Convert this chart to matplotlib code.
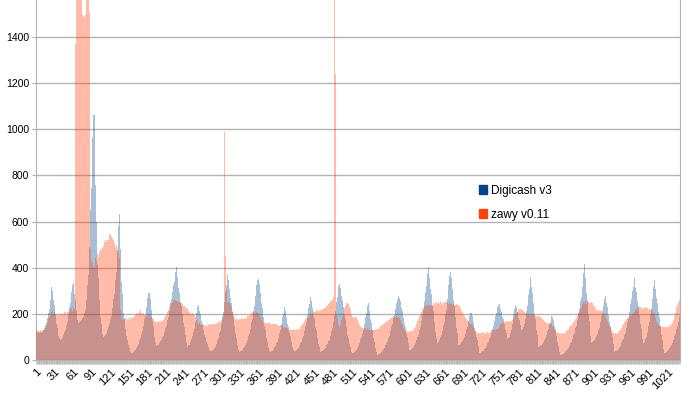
import matplotlib
matplotlib.use("Agg")
import matplotlib.pyplot as plt
from matplotlib.patches import Patch

series_names = ["Digicash v3", "zawy v0.11"]

# Digicash v3 values, category 1..1040
digicash = [
    140, 122, 118, 115, 120, 117, 116, 122, 119, 125, 121, 128, 132, 138, 145, 152, 160, 170, 180, 192, 205, 220, 238, 258, 285, 318,
    298, 278, 258, 238, 218, 198, 178, 158, 138, 120, 105, 94, 87,
    88, 90, 93, 97, 102, 108, 115, 123, 132, 142, 153, 165, 178, 193, 210, 228, 248, 270, 295, 325, 361,
    335, 310, 285, 260, 235, 212, 192, 175, 162,
    163, 165, 167, 170, 173, 177, 182, 188, 195, 205, 218, 235, 258, 288, 325, 370, 425, 490, 565, 650, 745, 850, 960, 1060, 1170,
    1060, 920, 760, 600, 480, 410, 355, 305, 260, 220, 185, 155, 130, 112, 100,
    101, 103, 106, 110, 115, 121, 128, 136, 145, 155, 166, 178, 192, 207, 224, 243, 264, 288, 315, 346, 382, 425, 475, 530, 580, 632,
    560, 480, 405, 340, 285, 240, 205, 178, 155, 135, 118, 102, 88, 75, 63, 52, 42, 34, 29,
    30, 31, 33, 35, 38, 41, 45, 49, 54, 59, 65, 71, 78, 86, 94, 103, 113, 124, 136, 149, 163, 178, 194, 211, 229, 249, 270, 292, 313,
    290, 266, 242, 218, 194, 170, 146, 122, 98, 76, 58,
    59, 61, 63, 66, 69, 73, 77, 82, 87, 93, 99, 106, 113, 121, 130, 139, 149, 160, 172, 185, 199, 214, 230, 247, 265, 280, 295, 310, 325, 340, 360, 380, 402,
    380, 358, 336, 314, 292, 272, 252, 234, 216, 198, 180, 162, 144, 126, 108, 90, 72, 58,
    60, 63, 67, 72, 78, 85, 93, 102, 112, 123, 136, 150, 166, 184, 205, 228, 253,
    240, 226, 212, 198, 184, 170, 157, 144, 132, 120, 109, 98, 88, 79, 71, 63, 56, 50, 44, 39, 36,
    37, 39, 42, 45, 49, 53, 58, 64, 70, 77, 85, 94, 104, 115, 127, 140, 155, 171, 189, 208, 229, 251, 275, 300, 325, 348, 368,
    348, 328, 308, 288, 268, 248, 228, 208, 188, 168, 149, 130, 112, 96, 81, 67, 55, 44, 36,
    37, 38, 40, 42, 45, 48, 52, 56, 61, 66, 72, 79, 86, 94, 103, 113, 124, 136, 149, 163, 178, 195, 213, 232, 253, 276, 300, 324, 348, 373,
    352, 331, 310, 289, 268, 247, 226, 205, 185, 165, 146, 128, 111, 95, 80, 67, 56, 47, 40, 36,
    37, 39, 41, 44, 47, 51, 55, 60, 66, 72, 79, 87, 96, 106, 117, 129, 142, 156, 171, 186, 200, 214, 228,
    214, 200, 186, 172, 158, 144, 130, 116, 103, 90, 78, 66, 55, 45, 36,
    37, 38, 40, 42, 45, 48, 52, 56, 61, 66, 72, 79, 86, 94, 103, 113, 124, 136, 149, 163, 178, 194, 210, 226, 242, 257, 272,
    256, 240, 224, 208, 192, 176, 160, 144, 128, 112, 97, 83, 70, 58, 46, 36,
    37, 38, 40, 42, 44, 47, 50, 54, 58, 63, 68, 74, 81, 88, 96, 105, 115, 126, 138, 151, 165, 180, 196, 213, 231, 250, 271, 295, 320, 347,
    330, 313, 296, 279, 262, 245, 228, 211, 194, 177, 160, 143, 126, 110, 95, 81, 68, 56, 45, 36, 29,
    30, 31, 33, 35, 38, 41, 45, 49, 54, 60, 66, 73, 81, 89, 98, 108, 119, 131, 144, 158, 172, 187, 202, 217, 232, 246,
    230, 213, 196, 179, 162, 145, 128, 111, 95, 80, 65, 50, 35, 22,
    23, 24, 25, 27, 29, 31, 34, 37, 40, 44, 48, 53, 58, 63, 69, 75, 82, 89, 97, 106, 115, 125, 135, 146, 158, 170, 183, 196, 209, 222, 235, 247, 258, 268, 276, 282,
    268, 254, 240, 226, 212, 198, 184, 170, 156, 142, 128, 114, 100, 86, 72, 57, 43,
    44, 46, 48, 51, 54, 58, 62, 67, 72, 78, 85, 92, 100, 109, 119, 130, 142, 155, 169, 184, 200, 217, 235, 254, 274, 296, 320, 346, 374, 404,
    380, 356, 332, 308, 284, 260, 236, 212, 189, 166, 143, 120, 96, 72,
    74, 77, 81, 86, 92, 99, 107, 116, 126, 137, 150, 164, 180, 198, 218, 240, 265, 293, 325, 362, 404,
    380, 356, 332, 308, 284, 260, 236, 212, 188, 164, 140, 116, 90, 65,
    66, 68, 71, 74, 78, 82, 87, 93, 99, 106, 114, 123, 133, 144, 156, 168, 180, 192, 204, 217,
    204, 191, 178, 165, 152, 139, 126, 113, 100, 87, 74, 61, 45, 29,
    30, 31, 33, 35, 37, 40, 43, 47, 51, 56, 61, 66, 72, 78, 85, 92, 100, 108, 117, 126, 136, 146, 157, 168, 180, 192, 204, 216, 228, 240, 253,
    242, 231, 220, 209, 198, 187, 176, 165, 154, 143, 132, 118, 104, 90,
    92, 96, 101, 108, 117, 128, 142, 158, 177, 199, 223, 250,
    239, 228, 217, 206, 195, 184, 173, 162, 151, 140, 130,
    133, 138, 145, 154, 165, 178, 194, 212, 233, 256, 281, 308, 334, 361,
    338, 315, 292, 269, 246, 223, 200, 177, 154, 131, 108, 83, 58,
    59, 60, 62, 64, 67, 70, 74, 78, 83, 88, 94, 101, 108, 116, 125, 134, 144, 155, 166, 178, 190, 202,
    188, 174, 160, 146, 132, 118, 104, 90, 76, 62, 48, 34, 20,
    21, 22, 23, 25, 27, 29, 31, 34, 37, 40, 44, 48, 52, 57, 62, 67, 73, 79, 86, 93, 101, 109, 118, 128, 138, 149, 161, 174, 188, 203, 219, 236, 254, 273, 293, 316, 340, 376, 416,
    385, 354, 323, 292, 261, 230, 199, 168, 137, 105, 73,
    74, 76, 78, 81, 85, 89, 94, 100, 106, 113, 121, 130, 140, 151, 163, 176, 190, 205, 220, 235, 249, 263, 277,
    261, 245, 229, 213, 197, 181, 165, 149, 133, 117, 101, 85, 69, 52, 36,
    37, 38, 40, 42, 45, 48, 52, 56, 61, 66, 72, 78, 85, 92, 100, 109, 118, 128, 139, 151, 164, 178, 193, 209, 226, 244, 263, 281, 300, 318, 336, 354,
    334, 314, 294, 274, 254, 234, 214, 194, 174, 154, 134, 114, 93, 73,
    75, 79, 85, 92, 100, 110, 121, 134, 148, 164, 181, 200, 220, 242, 265, 290, 317, 347,
    327, 307, 287, 267, 247, 227, 207, 187, 167, 147, 127, 107, 87, 67, 48, 29,
    30, 31, 33, 35, 37, 40, 43, 47, 51, 56, 61, 67, 73, 80, 87, 95, 104, 113, 123, 133, 144, 155, 166, 177, 188,
]

# zawy v0.11 values, category 1..1040
zawy = [
    135, 122, 125, 120, 127, 124, 121, 128, 125, 123, 130, 126, 129, 132, 135,
    140, 148, 155, 163, 172, 180, 188, 195, 200, 205, 208,
    212, 205, 198, 210, 203, 196, 207, 200, 192, 204, 199, 195, 206, 201, 193, 198, 205, 200, 196, 203, 208, 200, 195, 204, 210, 206,
    212, 218, 208, 220, 215, 224, 212, 218, 225, 216, 220,
    1370, 1470, 1620, 1680, 1650, 1720, 1690, 1640, 1700, 1660, 1610, 1580, 1500, 1490, 1485, 1480, 1495, 1570, 1640, 1690, 1650, 1600, 1580, 1510, 1505,
    480, 430, 410, 420, 405, 415, 400, 425, 440, 430, 455, 460, 445, 465, 470, 462,
    475, 480, 490, 485, 500, 495, 510, 505, 520, 512, 525, 518, 530, 522, 540, 528, 548, 535, 525, 530, 515, 520,
    505, 498, 490, 500, 485, 478, 470, 465,
    440, 330, 215,
    190, 182, 178, 185, 175, 180, 172, 183, 176, 170, 178, 185, 180, 174, 182, 188, 180, 176, 185, 190, 183, 188, 192,
    195, 200, 205, 198, 210, 204, 212, 207, 215, 210, 205, 200, 208, 202, 198,
    195, 190, 198, 188, 192, 196, 185, 190, 194, 188, 192, 186, 182, 180, 176, 172,
    168, 165, 162, 166, 160, 164, 168, 162, 166, 170, 165, 168, 172, 170, 175, 178,
    182, 188, 192, 198, 205, 210, 215, 222, 228, 232, 238, 242, 246, 250, 252, 255,
    258, 252, 260, 255, 262, 250, 258, 254, 248, 256, 252, 245, 250, 244, 240, 236, 232,
    235, 228, 230, 222, 225, 218, 212, 208,
    205, 200, 204, 198, 202, 196, 200, 194, 190, 185, 178, 172, 168,
    162, 158, 155, 160, 152, 156, 150, 154, 148, 152, 146, 150, 145, 149, 152, 146, 150, 155, 148, 152,
    156, 150, 154, 158, 152, 156, 160, 155, 158, 162, 157, 160, 165, 160, 163, 168, 164, 170, 172,
    176, 182, 188, 440, 990, 745, 450,
    300, 260, 248, 252, 245, 250, 242, 238, 230, 222, 212, 200, 190,
    182, 178, 175, 180, 172, 176, 170, 174, 178, 172, 176, 180, 174, 178, 182, 176, 180, 184, 178, 182, 186, 190, 185, 190, 194, 198, 195, 200,
    202, 206, 200, 208, 204, 210, 205, 200, 206, 202, 198, 204, 196, 192, 188, 182, 176, 170,
    166, 162, 165, 160, 163, 158, 162, 157, 160, 164, 158, 162, 156, 160, 155, 158, 162, 156, 160, 154,
    158, 152, 156, 150, 154, 148, 152, 146, 150, 145, 148, 144, 146, 142, 145, 140, 142,
    138, 140, 135, 138, 132, 136, 130, 134, 138, 132, 136, 130, 134, 128, 132, 136, 130, 134, 138, 132, 136, 140, 135, 138, 142, 146, 150,
    155, 160, 164, 168, 172, 176, 180, 178, 184, 182, 188, 186, 190, 194, 196, 200,
    205, 208, 212, 206, 214, 210, 216, 212, 218, 214, 210, 216, 212, 218, 222, 216, 220, 225, 220, 226,
    230, 226, 232, 236, 232, 238, 242, 246, 244, 250, 254, 258, 262,
    266, 272, 1700, 1700, 1240, 1060,
    200, 180, 165, 155, 148, 145, 150, 160, 172, 185,
    195, 205, 215, 225, 232, 240, 246, 244, 248, 242, 236, 228, 220, 210, 200, 192,
    188, 186, 190, 184, 188, 182, 185, 178, 172, 165, 158, 152, 148, 145, 142, 140,
    138, 140, 136, 139, 134, 137, 132, 135, 138, 133, 136, 131, 134, 130, 133, 128, 131, 135, 130, 133, 128, 132, 136, 130, 134, 138, 135, 140, 143,
    146, 150, 148, 153, 156, 154, 159, 162, 160, 165, 168, 166, 171, 174, 172, 177, 180, 178, 183, 186, 188,
    190, 186, 192, 188, 194, 190, 186, 192, 188, 184, 180, 175, 168, 160, 152, 145,
    138, 132, 128, 125, 128, 122, 126, 120, 124, 128, 122, 126, 120, 124, 128, 126, 130, 134, 138, 142, 148, 155, 162,
    170, 178, 185, 192, 198, 204, 210, 215, 220, 224, 228, 232, 230, 234, 236, 238,
    240, 236, 242, 238, 245, 240, 236, 244, 240, 248, 242, 238, 246, 250, 244, 240, 248, 252, 246, 242,
    250, 254, 248, 244, 240, 248, 252, 246, 250, 256, 250, 246, 252, 248, 244, 250, 246, 242, 248, 244,
    240, 246, 242, 238, 244, 240, 236, 242, 238, 234, 240, 236, 232,
    226, 220, 214, 208, 202, 198, 192, 188, 184, 180, 176, 172, 168, 165, 162, 160,
    158, 160, 155, 152, 148, 142, 136, 130, 124,
    120, 116, 118, 114, 117, 113, 116, 119, 115, 118, 114, 117, 120, 116, 113, 117, 114, 118, 116, 120, 117, 121, 118, 122, 125, 128,
    126, 130, 128, 132, 130, 134, 131, 135, 138, 136, 140, 143, 146, 150, 154, 158,
    160, 164, 162, 166, 163, 167, 165, 169, 166, 170, 168, 165, 169, 172, 168, 171, 175, 172, 176, 180, 185, 190, 195, 200, 205, 210, 214,
    218, 222, 216, 220, 224, 218, 215, 220, 214, 210, 206, 202, 200, 198, 196, 195,
    198, 194, 196, 192, 198, 195, 200, 196, 192, 198, 194, 190, 196, 192, 188, 194, 190, 186, 192, 188, 184, 180, 178, 176, 172, 170, 168, 165,
    164, 160, 162, 158, 161, 157, 160, 156, 158, 154, 150, 146, 142, 138, 134, 130, 126, 122, 120, 118, 117,
    116, 118, 114, 117, 113, 116, 119, 115, 118, 114, 117, 120, 124, 128, 132, 136,
    140, 143, 146, 149, 152, 155, 158, 161, 164, 168, 172, 176, 180, 185, 190, 196,
    202, 208, 215, 222, 230,
    238, 244, 248, 252, 246, 250, 256, 248, 244, 252, 258, 250, 246, 254, 248, 244, 250, 246, 240, 236, 232, 228, 224, 220,
    218, 214, 220, 216, 212, 218, 214, 210, 216, 212, 208, 204, 200, 194, 188, 182, 176, 170, 164, 158, 152,
    146, 140, 134, 128, 124, 120, 118, 116, 118, 115, 117, 114, 116, 118, 120, 124, 128, 132, 136, 140, 145,
    150, 155, 160, 164, 168, 172, 176, 180, 184, 186, 188, 190, 188, 192, 190, 194, 198, 202, 206, 210, 214, 218, 222,
    225, 228, 222, 226, 230, 224, 228, 222, 226, 230, 224, 220, 226, 222, 228, 224, 220, 226, 222, 218,
    224, 220, 216, 222, 218, 214, 210, 204, 198, 190, 182, 174,
    166, 160, 155, 150, 147, 145, 146, 143, 145, 142, 144, 141, 143, 140, 142, 144, 141, 143, 146, 144,
    147, 150, 148, 152, 156, 160, 166, 172,
    180, 192, 205, 218, 230, 240, 248, 252, 255, 258,
]

assert len(digicash) == len(zawy), (len(digicash), len(zawy))

categories = list(range(1, len(digicash) + 1))
tick_labels = [str(c) for c in categories if (c - 1) % 30 == 0]
y_ticks = [0, 200, 400, 600, 800, 1000, 1200, 1400]

plt.rcParams['font.family'] = ['Liberation Sans', 'DejaVu Sans']

fig = plt.figure(figsize=(6.9, 3.96), dpi=100)
ax = fig.add_axes([36 / 690, 36 / 396, (680 - 36) / 690, 360 / 396])

blue = '#004586'
orange = '#ff420e'
ax.bar(categories, digicash, width=1.0, color=blue, alpha=0.34, linewidth=0, zorder=2)
ax.bar(categories, zawy, width=1.0, color=orange, alpha=0.36, linewidth=0, zorder=3)

ax.set_xlim(0.5, len(categories) + 0.5)
ax.set_ylim(0, 1560)
ax.set_yticks(y_ticks)
ax.set_yticklabels([str(v) for v in y_ticks], fontsize=7.5)
ax.yaxis.grid(True, color='#b3b3b3', linewidth=1.0, zorder=1)
ax.set_axisbelow(True)

major = [c for c in categories if (c - 1) % 30 == 0]
ax.set_xticks(major)
ax.set_xticklabels(tick_labels, rotation=45, ha='right', rotation_mode='anchor', fontsize=8)
ax.set_xticks(categories, minor=True)
ax.tick_params(axis='x', which='both', length=3, color='#b3b3b3', width=0.5, pad=2)
ax.tick_params(axis='y', length=3, color='#b3b3b3', pad=2)

for side in ['left', 'bottom', 'right']:
    ax.spines[side].set_color('#b3b3b3')
ax.spines['top'].set_visible(False)

handles = [Patch(facecolor=blue, edgecolor=blue), Patch(facecolor=orange, edgecolor=orange)]
ax.legend(handles, series_names, loc='upper left', bbox_to_anchor=((474 - 36) / 644, 1 - 180 / 360),
          frameon=False, fontsize=8.5, handlelength=0.7, handleheight=0.7, handletextpad=0.3,
          labelspacing=1.0, borderaxespad=0)

fig.savefig('out.png', dpi=100)
